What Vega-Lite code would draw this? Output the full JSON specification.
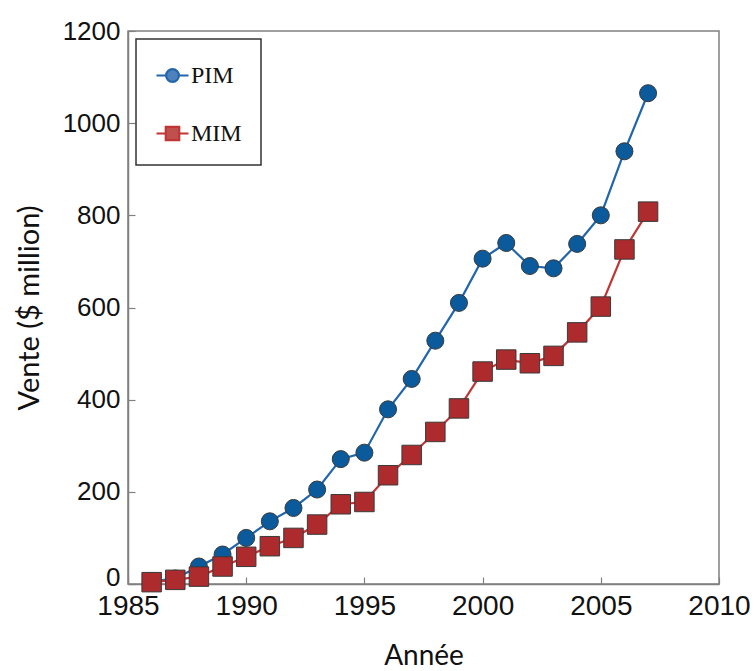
{
  "$schema": "https://vega.github.io/schema/vega-lite/v6.json",
  "width": 591,
  "height": 553,
  "autosize": {"type": "none"},
  "padding": {"left": 128, "top": 31, "right": 36, "bottom": 87},
  "background": "white",
  "config": {
    "view": {"stroke": "#808080", "strokeWidth": 1.5},
    "legend": {"strokeWidth": 1.5},
    "axis": {
      "grid": false,
      "domainColor": "#808080",
      "domainWidth": 1.5,
      "tickColor": "#808080",
      "tickWidth": 1.2,
      "tickSize": -7,
      "labelFont": "Liberation Sans",
      "labelColor": "#111111",
      "titleFont": "Lato",
      "titleFontWeight": "normal",
      "titleColor": "#111111"
    }
  },
  "data": {
    "values": [
      {"year": 1986, "series": "PIM", "value": 6},
      {"year": 1987, "series": "PIM", "value": 12},
      {"year": 1988, "series": "PIM", "value": 38},
      {"year": 1989, "series": "PIM", "value": 64},
      {"year": 1990, "series": "PIM", "value": 100},
      {"year": 1991, "series": "PIM", "value": 136},
      {"year": 1992, "series": "PIM", "value": 165},
      {"year": 1993, "series": "PIM", "value": 205},
      {"year": 1994, "series": "PIM", "value": 271},
      {"year": 1995, "series": "PIM", "value": 285},
      {"year": 1996, "series": "PIM", "value": 379},
      {"year": 1997, "series": "PIM", "value": 445},
      {"year": 1998, "series": "PIM", "value": 528},
      {"year": 1999, "series": "PIM", "value": 610},
      {"year": 2000, "series": "PIM", "value": 706},
      {"year": 2001, "series": "PIM", "value": 740},
      {"year": 2002, "series": "PIM", "value": 690},
      {"year": 2003, "series": "PIM", "value": 685},
      {"year": 2004, "series": "PIM", "value": 738},
      {"year": 2005, "series": "PIM", "value": 800},
      {"year": 2006, "series": "PIM", "value": 939},
      {"year": 2007, "series": "PIM", "value": 1065},
      {"year": 1986, "series": "MIM", "value": 4},
      {"year": 1987, "series": "MIM", "value": 9},
      {"year": 1988, "series": "MIM", "value": 16},
      {"year": 1989, "series": "MIM", "value": 38},
      {"year": 1990, "series": "MIM", "value": 59},
      {"year": 1991, "series": "MIM", "value": 82},
      {"year": 1992, "series": "MIM", "value": 100},
      {"year": 1993, "series": "MIM", "value": 129},
      {"year": 1994, "series": "MIM", "value": 173},
      {"year": 1995, "series": "MIM", "value": 178},
      {"year": 1996, "series": "MIM", "value": 236},
      {"year": 1997, "series": "MIM", "value": 280},
      {"year": 1998, "series": "MIM", "value": 330},
      {"year": 1999, "series": "MIM", "value": 381},
      {"year": 2000, "series": "MIM", "value": 461},
      {"year": 2001, "series": "MIM", "value": 487},
      {"year": 2002, "series": "MIM", "value": 479},
      {"year": 2003, "series": "MIM", "value": 495},
      {"year": 2004, "series": "MIM", "value": 546},
      {"year": 2005, "series": "MIM", "value": 602},
      {"year": 2006, "series": "MIM", "value": 726},
      {"year": 2007, "series": "MIM", "value": 808}
    ]
  },
  "encoding": {
    "x": {
      "field": "year",
      "type": "quantitative",
      "scale": {"domain": [1985, 2010], "nice": false, "zero": false},
      "axis": {
        "title": "Année",
        "values": [1985, 1990, 1995, 2000, 2005, 2010],
        "format": "d",
        "labelFontSize": 28,
        "labelPadding": 15,
        "titleFontSize": 28,
        "titlePadding": 22,
        "labelFlush": false
      }
    },
    "y": {
      "field": "value",
      "type": "quantitative",
      "scale": {"domain": [0, 1200], "nice": false},
      "axis": {
        "title": "Vente ($ million)",
        "values": [0, 200, 400, 600, 800, 1000, 1200],
        "format": "d",
        "labelFontSize": 26,
        "labelPadding": 15,
        "titleFontSize": 29,
        "titlePadding": 18,
        "labelFlush": false,
        "labelOffset": {"condition": {"test": "datum.value === 0", "value": -7}, "value": 0}
      }
    }
  },
  "layer": [
    {
      "mark": {"type": "line", "strokeWidth": 2.2},
      "encoding": {
        "color": {
          "field": "series",
          "type": "nominal",
          "sort": ["PIM", "MIM"],
          "scale": {"domain": ["PIM", "MIM"], "range": ["#2166ac", "#c03535"]},
          "legend": {
            "title": null,
            "orient": "top-left",
            "offset": 8,
            "padding": 19,
            "rowPadding": 28,
            "strokeColor": "#333333",
            "fillColor": "white",
            "cornerRadius": 0,
            "symbolSize": 1024,
            "symbolStrokeWidth": 2.2,
            "labelFont": "Liberation Serif",
            "labelFontSize": 24,
            "labelColor": "#111111",
            "labelOffset": 1,
            "encode": {
              "symbols": {
                "update": {
                  "shape": {"signal": "datum.value === 'PIM' ? 'M-1,0H-0.4M0.4,0H1M0.4,0A0.4,0.4 0 1 1 -0.4,0A0.4,0.4 0 1 1 0.4,0Z' : 'M-1,0H-0.42M0.42,0H1M-0.42,-0.42H0.42V0.42H-0.42Z'"},
                  "fill": {"signal": "datum.value === 'PIM' ? '#4f81bd' : '#c0504d'"},
                  "stroke": {"signal": "datum.value === 'PIM' ? '#4f81bd' : '#c0504d'"},
                  "strokeWidth": {"value": 2.2},
                  "fillOpacity": {"value": 1},
                  "opacity": {"value": 1}
                }
              }
            }
          }
        }
      }
    },
    {
      "mark": {"type": "point", "filled": true, "stroke": "#3a3a3a", "strokeWidth": 1, "opacity": 1},
      "encoding": {
        "fill": {
          "condition": {"test": "datum.series === 'PIM'", "value": "#0a5a9c"},
          "value": "#ad2a2d"
        },
        "shape": {
          "condition": {"test": "datum.series === 'PIM'", "value": "circle"},
          "value": "square"
        },
        "size": {
          "condition": {"test": "datum.series === 'PIM'", "value": 290},
          "value": 380
        }
      }
    }
  ]
}
